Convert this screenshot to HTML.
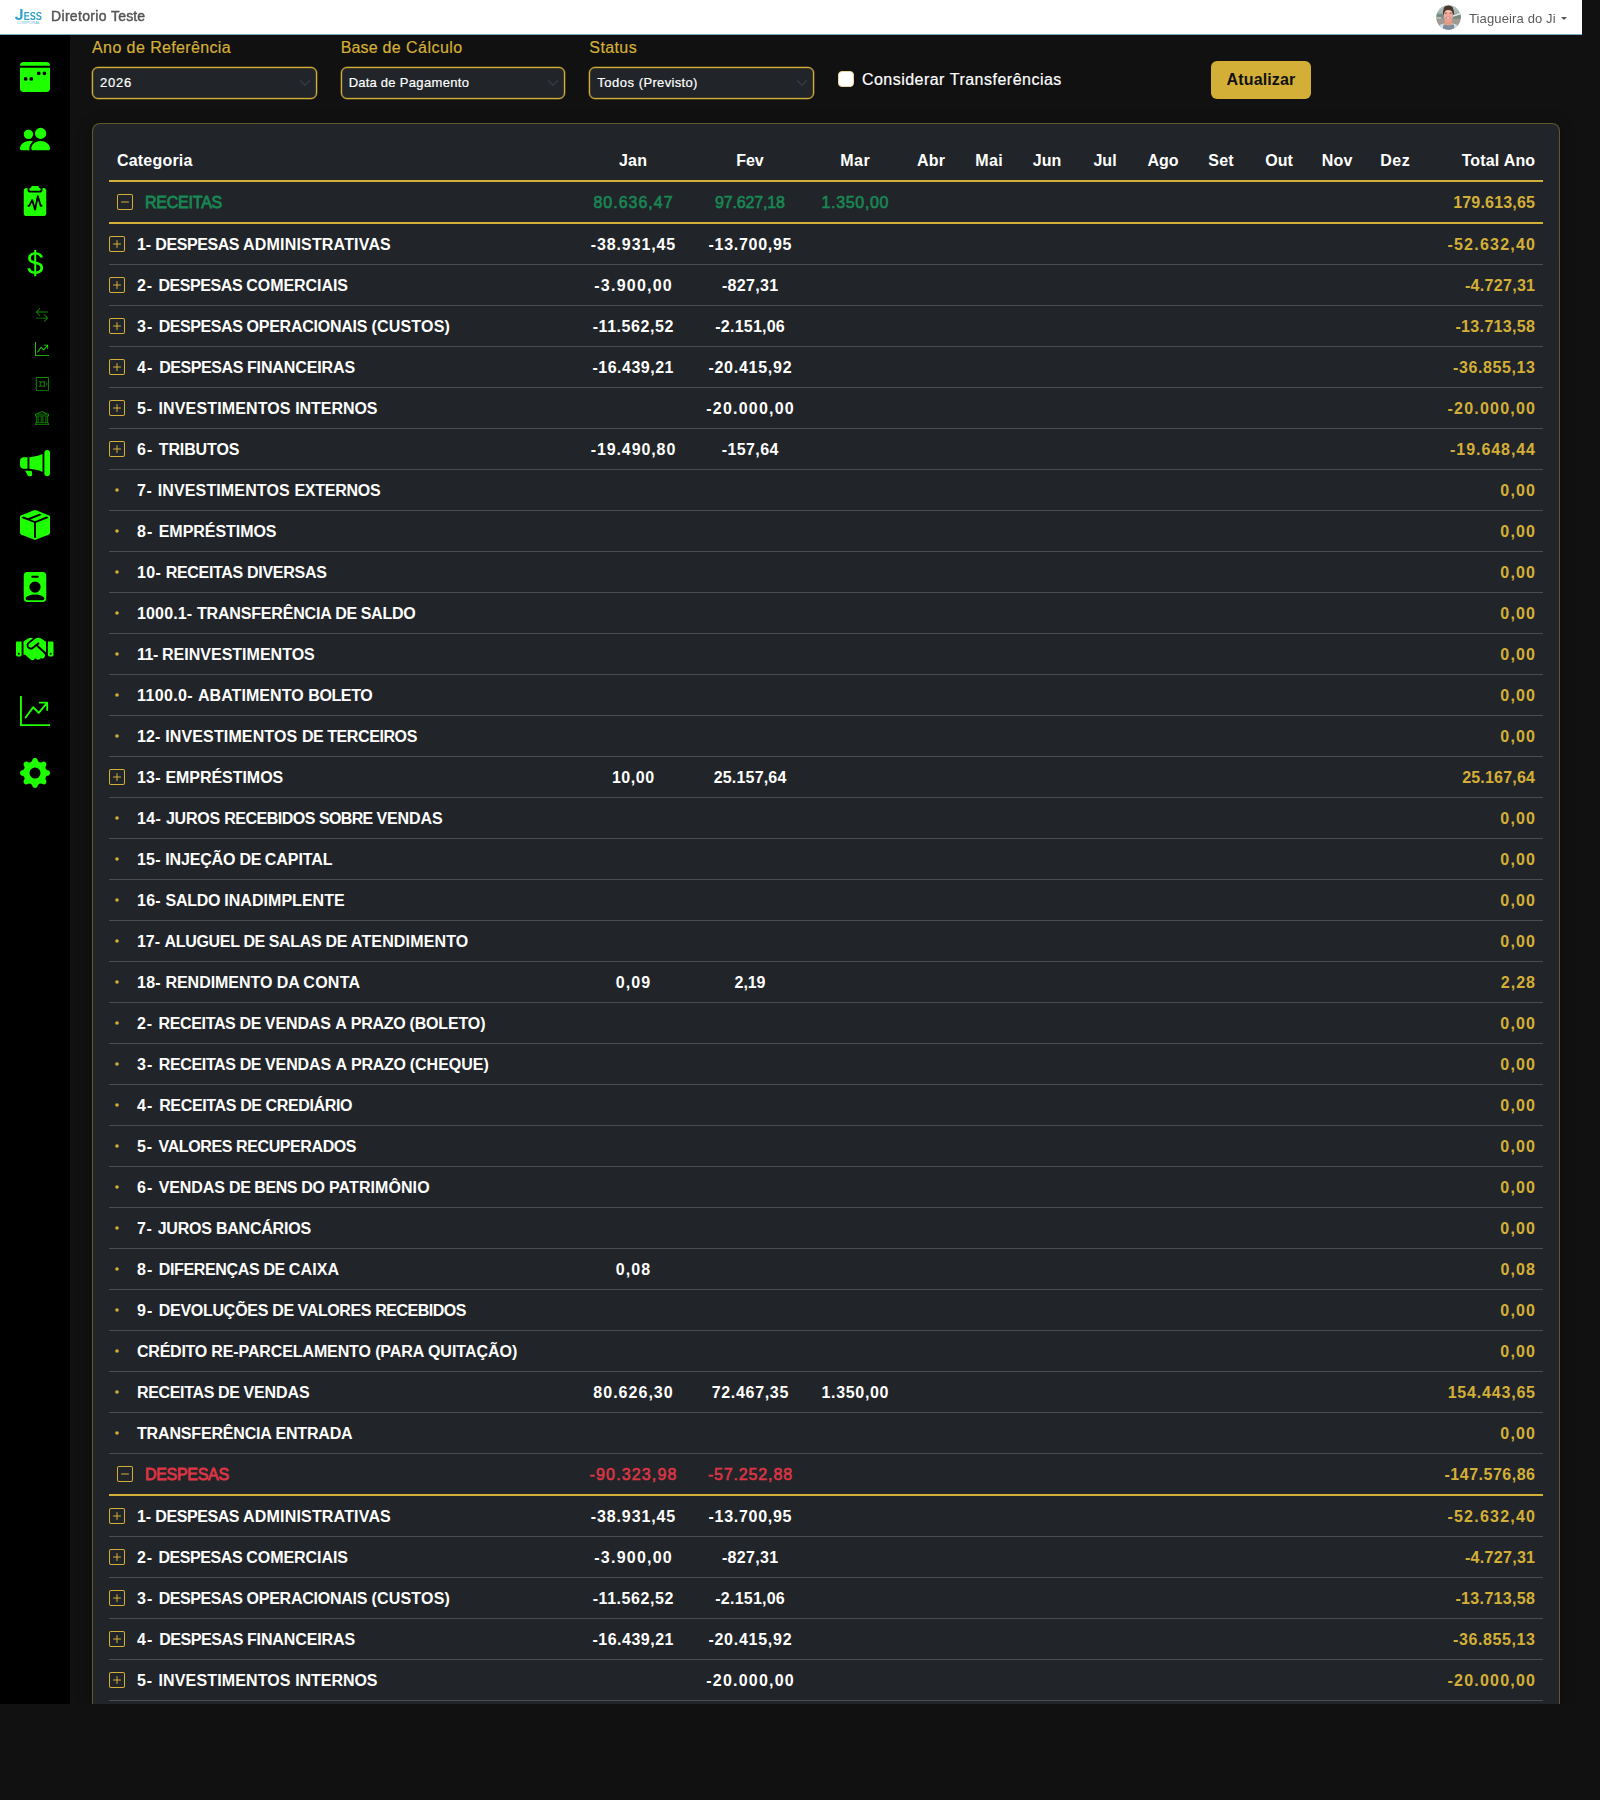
<!DOCTYPE html><html><head><meta charset="utf-8"><title>DRE</title><style>
html,body{margin:0;padding:0}
body{width:1600px;height:1800px;background:#111;overflow:hidden;position:relative;font-family:"Liberation Sans",sans-serif;color:#fff;font-size:16px;line-height:24px}
span,i{white-space:pre}
i{font-style:normal}
.hdr{position:absolute;left:0;top:0;width:1582px;height:34px;background:#fff;border-bottom:1px solid #78aac2}
.side{position:absolute;left:0;top:35px;width:70px;height:1669px;background:#000}
.ic{position:absolute;display:block}
.brand{position:absolute;left:51px;top:4px;font-size:14px;line-height:24px;color:#555;-webkit-text-stroke:.45px #555}
.user{position:absolute;left:1469px;top:7px;font-size:13px;line-height:24px;color:#5a5a5a}
.brand,.user{filter:grayscale(1)}
.caret{position:absolute;left:1561px;top:17px;width:0;height:0;border-left:3px solid transparent;border-right:3px solid transparent;border-top:3.5px solid #555}
.lbl{position:absolute;top:36px;color:#d4af37;font-size:16px;line-height:24px;-webkit-text-stroke:.2px #d4af37}
.sel{position:absolute;top:67px;width:222.67px;height:30px;border:1px solid #d4af37;box-shadow:0 0 0 .5px rgba(212,175,55,.55),inset 0 0 0 .5px rgba(212,175,55,.3);border-radius:6px;background:#212529;font-size:13px;line-height:30px}
.sel span{position:absolute;left:7px;top:0;-webkit-text-stroke:.2px #fff}
.sel svg{position:absolute;right:3px;top:8.5px}
.chk{position:absolute;left:838px;top:71px;width:14px;height:14px;border:1px solid #e9d9a0;border-radius:4px;background:#fff}
.chkl{position:absolute;left:862px;top:68px;-webkit-text-stroke:.2px #fff}
.btn{position:absolute;left:1211px;top:61px;width:100px;height:38px;border-radius:6px;background:#d4af37;color:#111;text-align:center;line-height:38px;font-weight:700}
.card{position:absolute;left:92px;top:123px;width:1466px;height:1581px;border:1px solid rgba(212,175,55,.36);border-bottom:none;border-radius:8px 8px 0 0;background:#212529;box-shadow:0 2px 16px rgba(0,0,0,.3)}
.r{position:absolute;left:16px;width:1434px;height:40px;border-bottom:1px solid #484d52}
.r.g,.r.h{border-bottom:2px solid #d4af37}
.r>div{position:absolute;top:9px;height:24px;white-space:nowrap}
.c{text-align:center}
.b{font-weight:700}
.ti{position:absolute;top:12px}
.tot{right:8px;text-align:right;color:#d4af37;font-weight:700}
.wh{color:#fff}
.gm{-webkit-text-stroke:.6px currentColor}
.gl{-webkit-text-stroke:.8px currentColor}
.cut{position:absolute;left:0;top:1704px;width:1600px;height:96px;background:#111}
</style></head><body>
<div class="hdr">
<svg class="ic" style="left:12px;top:4px" width="34" height="24" viewBox="12 4 34 24"><defs><linearGradient id="lg" gradientUnits="userSpaceOnUse" x1="15" x2="42" y1="0" y2="0"><stop offset="0" stop-color="#0c83af"/><stop offset="1" stop-color="#2fa0c7"/></linearGradient></defs><g fill="url(#lg)"><path transform="translate(14.740,19.850) scale(0.007764,-0.007764)" d="M524 -20Q305 -20 187.5 75Q70 170 31 382L324 425Q342 316 391 263.5Q440 211 526 211Q614 211 659.5 270Q705 329 705 439V1409H999V446Q999 226 874 103Q749 -20 524 -20Z"/><path transform="translate(23.700,20.000) scale(0.004441,-0.005678)" d="M137 0V1409H1245V1181H432V827H1184V599H432V228H1286V0Z"/><path transform="translate(29.767,20.000) scale(0.004441,-0.005678)" d="M1286 406Q1286 199 1132.5 89.5Q979 -20 682 -20Q411 -20 257 76Q103 172 59 367L344 414Q373 302 457 251.5Q541 201 690 201Q999 201 999 389Q999 449 963.5 488Q928 527 863.5 553Q799 579 616 616Q458 653 396 675.5Q334 698 284 728.5Q234 759 199 802Q164 845 144.5 903Q125 961 125 1036Q125 1227 268.5 1328.5Q412 1430 686 1430Q948 1430 1079.5 1348Q1211 1266 1249 1077L963 1038Q941 1129 873.5 1175Q806 1221 680 1221Q412 1221 412 1053Q412 998 440.5 963Q469 928 525 903.5Q581 879 752 842Q955 799 1042.5 762.5Q1130 726 1181 677.5Q1232 629 1259 561.5Q1286 494 1286 406Z"/><path transform="translate(35.833,20.000) scale(0.004441,-0.005678)" d="M1286 406Q1286 199 1132.5 89.5Q979 -20 682 -20Q411 -20 257 76Q103 172 59 367L344 414Q373 302 457 251.5Q541 201 690 201Q999 201 999 389Q999 449 963.5 488Q928 527 863.5 553Q799 579 616 616Q458 653 396 675.5Q334 698 284 728.5Q234 759 199 802Q164 845 144.5 903Q125 961 125 1036Q125 1227 268.5 1328.5Q412 1430 686 1430Q948 1430 1079.5 1348Q1211 1266 1249 1077L963 1038Q941 1129 873.5 1175Q806 1221 680 1221Q412 1221 412 1053Q412 998 440.5 963Q469 928 525 903.5Q581 879 752 842Q955 799 1042.5 762.5Q1130 726 1181 677.5Q1232 629 1259 561.5Q1286 494 1286 406Z"/></g><text x="17" y="24.1" font-family="Liberation Sans, sans-serif" font-size="3.9" letter-spacing="0.2" fill="#62b4d2">CORPORAL</text></svg>
<div class="brand"><span style="letter-spacing:0px;"><i style="letter-spacing:0.328px">Diretorio </i><i style="letter-spacing:0.131px">Teste</i></span></div>
<svg class="ic" style="left:1436px;top:4.7px" width="25" height="25" viewBox="0 0 25 25"><defs><clipPath id="av"><circle cx="12.5" cy="12.4" r="12.3"/></clipPath><filter id="bl" x="-20%" y="-20%" width="140%" height="140%"><feGaussianBlur stdDeviation="0.5"/></filter><linearGradient id="bg" x1="0" x2="0" y1="0" y2="1"><stop offset="0" stop-color="#b9c6c0"/><stop offset=".3" stop-color="#a3b4ad"/><stop offset=".42" stop-color="#6e8682"/><stop offset=".52" stop-color="#8d938c"/><stop offset=".6" stop-color="#a29a93"/><stop offset="1" stop-color="#9b948f"/></linearGradient></defs><g clip-path="url(#av)"><rect width="25" height="25" fill="url(#bg)"/><g filter="url(#bl)"><rect x="0" y="12.3" width="5.2" height="1.3" fill="#cfcfcc"/><path d="M17 10.3 L25 7.6 L25 9.4 L17 12z" fill="#e3e8e5"/><path d="M17 12 L25 9.4 L25 13.5 L17 13.5z" fill="#74877f"/><path d="M2 25 L4.5 19.6 Q8 18 12.5 18 Q17 18 20.5 19.6 L23 25z" fill="#d3dce0"/><path d="M6.8 25 L7.3 19.8 Q12.5 18.4 18 19.8 L18.5 25z" fill="#7d8da1"/><path d="M8.6 15 h7.6 v4.2 q-3.8 2.6 -7.6 0z" fill="#e29a80"/><path d="M7 9.6 Q6.6 .6 12.4 .5 Q18.2 .6 18 9.6 L16.6 9.6 Q16.8 5 12.4 5 Q8.2 5 8.4 9.6z" fill="#46362f"/><ellipse cx="12.4" cy="3.6" rx="4.6" ry="2.6" fill="#493830"/><ellipse cx="12.3" cy="10.8" rx="4.6" ry="5.9" fill="#efa999"/><ellipse cx="12.3" cy="6.6" rx="3.2" ry="1.3" fill="#fbbba6"/><ellipse cx="10" cy="8.1" rx="1.25" ry=".55" fill="#7c5d5c"/><ellipse cx="14.5" cy="8.1" rx="1.25" ry=".55" fill="#7c5d5c"/><ellipse cx="12.2" cy="12.9" rx="2.7" ry="1.5" fill="#c78482"/><ellipse cx="12.2" cy="12.9" rx="1.5" ry=".75" fill="#efe4e4"/><ellipse cx="12.3" cy="15.4" rx="2.6" ry="1" fill="#ee9f92"/></g></g></svg>
<div class="user"><span style="letter-spacing:0px;"><i style="letter-spacing:0.133px">Tiagueira </i><i style="letter-spacing:0.109px">do </i><i style="letter-spacing:0.258px">Ji</i></span></div><div class="caret"></div>
</div>
<div class="side"></div>
<svg class="ic" style="left:20px;top:62px" width="30" height="30" viewBox="0 0 16 16" fill="#1eff00"><path fill-rule="evenodd" d="M2 0a2 2 0 0 0-2 2h16a2 2 0 0 0-2-2zM0 14V3h16v11a2 2 0 0 1-2 2H2a2 2 0 0 1-2-2m12-8a1 1 0 1 0 2 0 1 1 0 0 0-2 0M5 9a1 1 0 1 0 2 0 1 1 0 0 0-2 0m5-2a1 1 0 1 1 0-2 1 1 0 0 1 0 2M2 9a1 1 0 1 0 2 0 1 1 0 0 0-2 0"/></svg>
<svg class="ic" style="left:20px;top:124px" width="30" height="30" viewBox="0 0 16 16" fill="#1eff00"><path d="M7 14s-1 0-1-1 1-4 5-4 5 3 5 4-1 1-1 1zm4-6a3 3 0 1 0 0-6 3 3 0 0 0 0 6m-5.784 6A2.24 2.24 0 0 1 5 13c0-1.355.68-2.75 1.936-3.72A6.3 6.3 0 0 0 5 9c-4 0-5 3-5 4s1 1 1 1zM4.5 8a2.5 2.5 0 1 0 0-5 2.5 2.5 0 0 0 0 5"/></svg>
<svg class="ic" style="left:20px;top:186px" width="30" height="30" viewBox="0 0 16 16" fill="#1eff00"><path d="M10 .5a.5.5 0 0 0-.5-.5h-3a.5.5 0 0 0-.5.5.5.5 0 0 1-.5.5.5.5 0 0 0-.5.5V2a.5.5 0 0 0 .5.5h5A.5.5 0 0 0 11 2v-.5a.5.5 0 0 0-.5-.5.5.5 0 0 1-.5-.5"/><path d="M4.085 1H3.5A1.5 1.5 0 0 0 2 2.5v12A1.5 1.5 0 0 0 3.5 16h9a1.5 1.5 0 0 0 1.5-1.5v-12A1.5 1.5 0 0 0 12.5 1h-.585q.084.236.085.5V2a1.5 1.5 0 0 1-1.5 1.5h-5A1.5 1.5 0 0 1 4 2v-.5q.001-.264.085-.5M9.98 5.356 11.372 10h.128a.5.5 0 0 1 0 1H11a.5.5 0 0 1-.479-.356l-.94-3.135-1.092 5.096a.5.5 0 0 1-.968.039L6.383 8.85l-.936 1.873A.5.5 0 0 1 5 11h-.5a.5.5 0 0 1 0-1h.191l1.362-2.724a.5.5 0 0 1 .926.08l.94 3.135 1.092-5.096a.5.5 0 0 1 .968-.039Z"/></svg>
<svg class="ic" style="left:20px;top:248px" width="30" height="30" viewBox="0 0 16 16" fill="#1eff00"><path d="M4 10.781c.148 1.667 1.513 2.85 3.591 3.003V15h1.043v-1.216c2.27-.179 3.678-1.438 3.678-3.3 0-1.59-.947-2.51-2.956-3.028l-.722-.187V3.467c1.122.11 1.879.714 2.07 1.616h1.47c-.166-1.6-1.54-2.748-3.54-2.875V1H7.591v1.233c-1.939.23-3.27 1.472-3.27 3.156 0 1.454.966 2.483 2.661 2.917l.61.162v4.031c-1.149-.17-1.94-.8-2.131-1.718zm3.391-3.836c-1.043-.263-1.6-.825-1.6-1.616 0-.944.704-1.641 1.8-1.828v3.495l-.2-.05zm1.591 1.872c1.287.323 1.852.859 1.852 1.769 0 1.097-.826 1.828-2.2 1.939V8.73z"/></svg>
<svg class="ic" style="left:20px;top:448px" width="30" height="30" viewBox="0 0 16 16" fill="#1eff00"><path d="M13 2.5a1.5 1.5 0 0 1 3 0v11a1.5 1.5 0 0 1-3 0zm-1 .724c-2.067.95-4.539 1.481-7 1.656v6.237a25 25 0 0 1 1.088.085c2.053.204 4.038.668 5.912 1.56zm-8 7.841V4.934c-.68.027-1.399.043-2.008.053A2.02 2.02 0 0 0 0 7v2c0 1.106.896 1.996 1.994 2.009l.496.008a64 64 0 0 1 1.51.048m1.39 1.081q.428.032.85.078l.253 1.69a1 1 0 0 1-.983 1.187h-.548a1 1 0 0 1-.916-.599l-1.314-2.48a66 66 0 0 1 1.692.064q.491.026.966.06"/></svg>
<svg class="ic" style="left:20px;top:510px" width="30" height="30" viewBox="0 0 16 16" fill="#1eff00"><path fill-rule="evenodd" d="M15.528 2.973a.75.75 0 0 1 .472.696v8.662a.75.75 0 0 1-.472.696l-7.25 2.9a.75.75 0 0 1-.557 0l-7.25-2.9A.75.75 0 0 1 0 12.331V3.669a.75.75 0 0 1 .471-.696L7.443.184l.01-.003.268-.108a.75.75 0 0 1 .558 0l.269.108.01.003zM10.404 2 4.25 4.461 1.846 3.5 1 3.839v.4l6.5 2.6v7.922l.5.2.5-.2V6.84l6.5-2.6v-.4l-.846-.339L8 5.961 5.596 5l6.154-2.461z"/></svg>
<svg class="ic" style="left:20px;top:572px" width="30" height="30" viewBox="0 0 16 16" fill="#1eff00"><path d="M2 2a2 2 0 0 1 2-2h8a2 2 0 0 1 2 2v12a2 2 0 0 1-2 2H4a2 2 0 0 1-2-2zm4.5 0a.5.5 0 0 0 0 1h3a.5.5 0 0 0 0-1zM8 11a3 3 0 1 0 0-6 3 3 0 0 0 0 6m5 2.755C12.146 12.825 10.623 12 8 12s-4.146.826-5 1.755V14a1 1 0 0 0 1 1h8a1 1 0 0 0 1-1z"/></svg>
<svg class="ic" style="left:20px;top:696px" width="30" height="30" viewBox="0 0 16 16" fill="#1eff00"><path fill-rule="evenodd" d="M0 0h1v15h15v1H0zm10 3.5a.5.5 0 0 1 .5-.5h4a.5.5 0 0 1 .5.5v4a.5.5 0 0 1-1 0V4.9l-3.613 4.417a.5.5 0 0 1-.74.037L7.06 6.767l-3.656 5.027a.5.5 0 0 1-.808-.588l4-5.5a.5.5 0 0 1 .758-.06l2.609 2.61L13.445 4H10.5a.5.5 0 0 1-.5-.5"/></svg>
<svg class="ic" style="left:20px;top:758px" width="30" height="30" viewBox="0 0 16 16" fill="#1eff00"><path d="M9.405 1.05c-.413-1.4-2.397-1.4-2.81 0l-.1.34a1.464 1.464 0 0 1-2.105.872l-.31-.17c-1.283-.698-2.686.705-1.987 1.987l.169.311c.446.82.023 1.841-.872 2.105l-.34.1c-1.4.413-1.4 2.397 0 2.81l.34.1a1.464 1.464 0 0 1 .872 2.105l-.17.31c-.698 1.283.705 2.686 1.987 1.987l.311-.169a1.464 1.464 0 0 1 2.105.872l.1.34c.413 1.4 2.397 1.4 2.81 0l.1-.34a1.464 1.464 0 0 1 2.105-.872l.31.17c1.283.698 2.686-.705 1.987-1.987l-.169-.311a1.464 1.464 0 0 1 .872-2.105l.34-.1c1.4-.413 1.4-2.397 0-2.81l-.34-.1a1.464 1.464 0 0 1-.872-2.105l.17-.31c.698-1.283-.705-2.686-1.987-1.987l-.311.169a1.464 1.464 0 0 1-2.105-.872zM8 10.93a2.929 2.929 0 1 1 0-5.86 2.929 2.929 0 0 1 0 5.858z"/></svg>
<svg class="ic" style="left:16.25px;top:634px" width="37.5" height="30" viewBox="0 0 640 512" fill="#1eff00"><path transform="translate(0,448) scale(1,-1)" d="M323 363 227 284Q214 274 212 259Q211 244 220 231Q230 218 246 216Q261 213 275 223L374 301Q387 309 397 298Q405 286 394 275L373 259L512 131V320H511L507 322L435 369Q411 384 383 384Q350 384 323 363ZM346 238 294 198Q270 180 241 184Q213 188 194 212Q177 236 181 263Q184 290 206 309L290 376Q272 384 253 384Q224 384 200 368L128 320V96H156L248 13Q263 -1 282 0Q301 1 315 16Q324 25 327 36L344 21Q359 7 378 8Q397 9 411 24Q418 31 421 40Q436 30 453 32Q471 34 483 48Q497 63 496 82Q495 101 480 115L346 238ZM16 320Q1 319 0 304V96Q0 82 9 73Q18 64 32 64H64Q78 64 87 73Q96 82 96 96V320H16ZM48 128Q63 127 64 112Q63 97 48 96Q33 97 32 112Q33 127 48 128ZM544 320V96Q544 82 553 73Q562 64 576 64H608Q622 64 631 73Q640 82 640 96V304Q639 319 624 320H544ZM576 112Q577 127 592 128Q607 127 608 112Q607 97 592 96Q577 97 576 112Z"/></svg>
<svg class="ic" style="left:35px;top:308px" width="14" height="14" viewBox="0 0 16 16" fill="#128c00"><path fill-rule="evenodd" d="M1 11.5a.5.5 0 0 0 .5.5h11.793l-3.147 3.146a.5.5 0 0 0 .708.708l4-4a.5.5 0 0 0 0-.708l-4-4a.5.5 0 0 0-.708.708L13.293 11H1.5a.5.5 0 0 0-.5.5m14-7a.5.5 0 0 1-.5.5H2.707l3.147 3.146a.5.5 0 1 1-.708.708l-4-4a.5.5 0 0 1 0-.708l4-4a.5.5 0 1 1 .708.708L2.707 4H14.5a.5.5 0 0 1 .5.5"/></svg>
<svg class="ic" style="left:35px;top:342px" width="14" height="14" viewBox="0 0 16 16" fill="#1fe000"><path fill-rule="evenodd" d="M0 0h1v15h15v1H0zm10 3.5a.5.5 0 0 1 .5-.5h4a.5.5 0 0 1 .5.5v4a.5.5 0 0 1-1 0V4.9l-3.613 4.417a.5.5 0 0 1-.74.037L7.06 6.767l-3.656 5.027a.5.5 0 0 1-.808-.588l4-5.5a.5.5 0 0 1 .758-.06l2.609 2.61L13.445 4H10.5a.5.5 0 0 1-.5-.5"/></svg>
<svg class="ic" style="left:35px;top:377px" width="14" height="14" viewBox="0 0 16 16" fill="#128c00"><path d="M1 1.5A1.5 1.5 0 0 1 2.5 0h12A1.5 1.5 0 0 1 16 1.5v13a1.5 1.5 0 0 1-1.5 1.5h-12A1.5 1.5 0 0 1 1 14.5V13H.5a.5.5 0 0 1 0-1H1V8.5H.5a.5.5 0 0 1 0-1H1V4H.5a.5.5 0 0 1 0-1H1zM2.5 1a.5.5 0 0 0-.5.5v13a.5.5 0 0 0 .5.5h12a.5.5 0 0 0 .5-.5v-13a.5.5 0 0 0-.5-.5z"/><path d="M13.5 6a.5.5 0 0 1 .5.5v3a.5.5 0 0 1-1 0v-3a.5.5 0 0 1 .5-.5M4.828 4.464a.5.5 0 0 1 .708 0l1.09 1.09a3 3 0 0 1 3.476 0l1.09-1.09a.5.5 0 1 1 .707.708l-1.09 1.09c.74 1.037.74 2.44 0 3.476l1.09 1.09a.5.5 0 1 1-.707.708l-1.09-1.09a3 3 0 0 1-3.476 0l-1.09 1.09a.5.5 0 1 1-.708-.708l1.09-1.09a3 3 0 0 1 0-3.476l-1.09-1.09a.5.5 0 0 1 0-.708M6.95 6.586a2 2 0 1 0 2.828 2.828A2 2 0 0 0 6.95 6.586"/></svg>
<svg class="ic" style="left:35px;top:411px" width="14" height="14" viewBox="0 0 16 16" fill="#128c00"><path d="m8 0 6.61 3h.89a.5.5 0 0 1 .5.5v2a.5.5 0 0 1-.5.5H15v7a.5.5 0 0 1 .485.38l.5 2a.498.498 0 0 1-.485.62H.5a.498.498 0 0 1-.485-.62l.5-2A.5.5 0 0 1 1 13V6H.5a.5.5 0 0 1-.5-.5v-2A.5.5 0 0 1 .5 3h.89zM3.777 3h8.447L8 1zM2 6v7h1V6zm2 0v7h2.5V6zm3.5 0v7h1V6zm2 0v7H12V6zM13 6v7h1V6zm2-1V4H1v1zm-.39 9H1.39l-.25 1h13.72z"/></svg>
<div class="lbl" style="left:92px"><span style="letter-spacing:0px;"><i style="letter-spacing:0.418px">Ano </i><i style="letter-spacing:0.458px">de </i><i style="letter-spacing:0.333px">Referência</i></span></div>
<div class="sel" style="left:92px"><span style="letter-spacing:0.801px;">2026</span><svg width="16" height="12" viewBox="0 0 16 16"><path fill="none" stroke="#343a40" stroke-linecap="round" stroke-linejoin="round" stroke-width="2" d="m2 5 6 6 6-6"/></svg></div>
<div class="lbl" style="left:340.67px"><span style="letter-spacing:0px;"><i style="letter-spacing:0.163px">Base </i><i style="letter-spacing:0.458px">de </i><i style="letter-spacing:0.464px">Cálculo</i></span></div>
<div class="sel" style="left:340.67px"><span style="letter-spacing:0px;"><i style="letter-spacing:0.178px">Data </i><i style="letter-spacing:0.37px">de </i><i style="letter-spacing:0.326px">Pagamento</i></span><svg width="16" height="12" viewBox="0 0 16 16"><path fill="none" stroke="#343a40" stroke-linecap="round" stroke-linejoin="round" stroke-width="2" d="m2 5 6 6 6-6"/></svg></div>
<div class="lbl" style="left:589.33px"><span style="letter-spacing:0.391px;">Status</span></div>
<div class="sel" style="left:589.33px"><span style="letter-spacing:0px;"><i style="letter-spacing:0.523px">Todos </i><i style="letter-spacing:0.325px">(Previsto)</i></span><svg width="16" height="12" viewBox="0 0 16 16"><path fill="none" stroke="#343a40" stroke-linecap="round" stroke-linejoin="round" stroke-width="2" d="m2 5 6 6 6-6"/></svg></div>
<div class="chk"></div><div class="chkl"><span style="letter-spacing:0px;"><i style="letter-spacing:0.456px">Considerar </i><i style="letter-spacing:0.49px">Transferências</i></span></div>
<div class="btn"><span style="letter-spacing:0.142px;">Atualizar</span></div>
<div class="card">
<div class="r h" style="top:16px"><div class="b" style="left:8px"><span style="letter-spacing:0.196px;">Categoria</span></div>
<div class="b" style="left:509.99px;letter-spacing:0.224px;">Jan</div>
<div class="b" style="left:627.25px;letter-spacing:-0.042px;">Fev</div>
<div class="b" style="left:731.16px;letter-spacing:0.615px;">Mar</div>
<div class="b" style="left:808.08px;letter-spacing:0.141px;">Abr</div>
<div class="b" style="left:866.17px;letter-spacing:0.49px;">Mai</div>
<div class="b" style="left:923.64px;letter-spacing:0.135px;">Jun</div>
<div class="b" style="left:984.39px;letter-spacing:0.047px;">Jul</div>
<div class="b" style="left:1038.43px;letter-spacing:0.016px;">Ago</div>
<div class="b" style="left:1099.34px;letter-spacing:0.203px;">Set</div>
<div class="b" style="left:1156.16px;letter-spacing:0.068px;">Out</div>
<div class="b" style="left:1212.63px;letter-spacing:0.25px;">Nov</div>
<div class="b" style="left:1271.33px;letter-spacing:0.443px;">Dez</div>
<div class="tot b wh" style="letter-spacing:0px;right:7.98px"><i style="letter-spacing:0.117px">Total </i><i style="letter-spacing:0.021px">Ano</i></div></div>
<div class="r g" style="top:58px"><svg class="ti" style="left:8px" width="16" height="16" viewBox="0 0 16 16" fill="#d4af37"><path d="M14 1a1 1 0 0 1 1 1v12a1 1 0 0 1-1 1H2a1 1 0 0 1-1-1V2a1 1 0 0 1 1-1zM2 0a2 2 0 0 0-2 2v12a2 2 0 0 0 2 2h12a2 2 0 0 0 2-2V2a2 2 0 0 0-2-2z"/><path d="M4 8a.5.5 0 0 1 .5-.5h7a.5.5 0 0 1 0 1h-7A.5.5 0 0 1 4 8"/></svg>
<div class="gl" style="left:36px;color:#198754"><span style="letter-spacing:-0.219px;">RECEITAS</span></div>
<div class="gm" style="left:484.43px;letter-spacing:0.995px;color:#198754;">80.636,47</div>
<div class="gm" style="left:605.98px;letter-spacing:-0.142px;color:#198754;">97.627,18</div>
<div class="gm" style="left:712.54px;letter-spacing:0.664px;color:#198754;">1.350,00</div>
<div class="tot" style="letter-spacing:0.198px;right:7.80px">179.613,65</div></div>
<div class="r" style="top:100px"><svg class="ti" style="left:0" width="16" height="16" viewBox="0 0 16 16" fill="#d4af37"><path d="M14 1a1 1 0 0 1 1 1v12a1 1 0 0 1-1 1H2a1 1 0 0 1-1-1V2a1 1 0 0 1 1-1zM2 0a2 2 0 0 0-2 2v12a2 2 0 0 0 2 2h12a2 2 0 0 0 2-2V2a2 2 0 0 0-2-2z"/><path d="M8 4a.5.5 0 0 1 .5.5v3h3a.5.5 0 0 1 0 1h-3v3a.5.5 0 0 1-1 0v-3h-3a.5.5 0 0 1 0-1h3v-3A.5.5 0 0 1 8 4"/></svg>
<div class="b" style="left:28px"><span style="letter-spacing:0px;"><i style="letter-spacing:-0.141px">1- </i><i style="letter-spacing:-0.42px">DESPESAS </i><i style="letter-spacing:0.182px">ADMINISTRATIVAS</i></span></div>
<div class="b" style="left:481.77px;letter-spacing:0.883px;">-38.931,45</div>
<div class="b" style="left:599.52px;letter-spacing:0.716px;">-13.700,95</div>
<div class="tot" style="letter-spacing:1.231px;right:6.77px">-52.632,40</div></div>
<div class="r" style="top:141px"><svg class="ti" style="left:0" width="16" height="16" viewBox="0 0 16 16" fill="#d4af37"><path d="M14 1a1 1 0 0 1 1 1v12a1 1 0 0 1-1 1H2a1 1 0 0 1-1-1V2a1 1 0 0 1 1-1zM2 0a2 2 0 0 0-2 2v12a2 2 0 0 0 2 2h12a2 2 0 0 0 2-2V2a2 2 0 0 0-2-2z"/><path d="M8 4a.5.5 0 0 1 .5.5v3h3a.5.5 0 0 1 0 1h-3v3a.5.5 0 0 1-1 0v-3h-3a.5.5 0 0 1 0-1h3v-3A.5.5 0 0 1 8 4"/></svg>
<div class="b" style="left:28px"><span style="letter-spacing:0px;"><i style="letter-spacing:0.927px">2- </i><i style="letter-spacing:-0.42px">DESPESAS </i><i style="letter-spacing:-0.058px">COMERCIAIS</i></span></div>
<div class="b" style="left:485.24px;letter-spacing:1.24px;">-3.900,00</div>
<div class="b" style="left:612.90px;letter-spacing:0.324px;">-827,31</div>
<div class="tot" style="letter-spacing:0.309px;right:7.69px">-4.727,31</div></div>
<div class="r" style="top:182px"><svg class="ti" style="left:0" width="16" height="16" viewBox="0 0 16 16" fill="#d4af37"><path d="M14 1a1 1 0 0 1 1 1v12a1 1 0 0 1-1 1H2a1 1 0 0 1-1-1V2a1 1 0 0 1 1-1zM2 0a2 2 0 0 0-2 2v12a2 2 0 0 0 2 2h12a2 2 0 0 0 2-2V2a2 2 0 0 0-2-2z"/><path d="M8 4a.5.5 0 0 1 .5.5v3h3a.5.5 0 0 1 0 1h-3v3a.5.5 0 0 1-1 0v-3h-3a.5.5 0 0 1 0-1h3v-3A.5.5 0 0 1 8 4"/></svg>
<div class="b" style="left:28px"><span style="letter-spacing:0px;"><i style="letter-spacing:0.995px">3- </i><i style="letter-spacing:-0.42px">DESPESAS </i><i style="letter-spacing:-0.238px">OPERACIONAIS </i><i style="letter-spacing:0.203px">(CUSTOS)</i></span></div>
<div class="b" style="left:483.68px;letter-spacing:0.556px;">-11.562,52</div>
<div class="b" style="left:606.25px;letter-spacing:0.236px;">-2.151,06</div>
<div class="tot" style="letter-spacing:0.338px;right:7.66px">-13.713,58</div></div>
<div class="r" style="top:223px"><svg class="ti" style="left:0" width="16" height="16" viewBox="0 0 16 16" fill="#d4af37"><path d="M14 1a1 1 0 0 1 1 1v12a1 1 0 0 1-1 1H2a1 1 0 0 1-1-1V2a1 1 0 0 1 1-1zM2 0a2 2 0 0 0-2 2v12a2 2 0 0 0 2 2h12a2 2 0 0 0 2-2V2a2 2 0 0 0-2-2z"/><path d="M8 4a.5.5 0 0 1 .5.5v3h3a.5.5 0 0 1 0 1h-3v3a.5.5 0 0 1-1 0v-3h-3a.5.5 0 0 1 0-1h3v-3A.5.5 0 0 1 8 4"/></svg>
<div class="b" style="left:28px"><span style="letter-spacing:0px;"><i style="letter-spacing:1.156px">4- </i><i style="letter-spacing:-0.42px">DESPESAS </i><i style="letter-spacing:-0.122px">FINANCEIRAS</i></span></div>
<div class="b" style="left:483.49px;letter-spacing:0.5px;">-16.439,21</div>
<div class="b" style="left:599.40px;letter-spacing:0.742px;">-20.415,92</div>
<div class="tot" style="letter-spacing:0.602px;right:7.40px">-36.855,13</div></div>
<div class="r" style="top:264px"><svg class="ti" style="left:0" width="16" height="16" viewBox="0 0 16 16" fill="#d4af37"><path d="M14 1a1 1 0 0 1 1 1v12a1 1 0 0 1-1 1H2a1 1 0 0 1-1-1V2a1 1 0 0 1 1-1zM2 0a2 2 0 0 0-2 2v12a2 2 0 0 0 2 2h12a2 2 0 0 0 2-2V2a2 2 0 0 0-2-2z"/><path d="M8 4a.5.5 0 0 1 .5.5v3h3a.5.5 0 0 1 0 1h-3v3a.5.5 0 0 1-1 0v-3h-3a.5.5 0 0 1 0-1h3v-3A.5.5 0 0 1 8 4"/></svg>
<div class="b" style="left:28px"><span style="letter-spacing:0px;"><i style="letter-spacing:0.958px">5- </i><i style="letter-spacing:0.132px">INVESTIMENTOS </i><i style="letter-spacing:-0.068px">INTERNOS</i></span></div>
<div class="b" style="left:597.23px;letter-spacing:1.225px;">-20.000,00</div>
<div class="tot" style="letter-spacing:1.225px;right:6.78px">-20.000,00</div></div>
<div class="r" style="top:305px"><svg class="ti" style="left:0" width="16" height="16" viewBox="0 0 16 16" fill="#d4af37"><path d="M14 1a1 1 0 0 1 1 1v12a1 1 0 0 1-1 1H2a1 1 0 0 1-1-1V2a1 1 0 0 1 1-1zM2 0a2 2 0 0 0-2 2v12a2 2 0 0 0 2 2h12a2 2 0 0 0 2-2V2a2 2 0 0 0-2-2z"/><path d="M8 4a.5.5 0 0 1 .5.5v3h3a.5.5 0 0 1 0 1h-3v3a.5.5 0 0 1-1 0v-3h-3a.5.5 0 0 1 0-1h3v-3A.5.5 0 0 1 8 4"/></svg>
<div class="b" style="left:28px"><span style="letter-spacing:0px;"><i style="letter-spacing:1.016px">6- </i><i style="letter-spacing:-0.121px">TRIBUTOS</i></span></div>
<div class="b" style="left:481.66px;letter-spacing:0.906px;">-19.490,80</div>
<div class="b" style="left:612.68px;letter-spacing:0.397px;">-157,64</div>
<div class="tot" style="letter-spacing:0.934px;right:7.07px">-19.648,44</div></div>
<div class="r" style="top:346px"><svg class="ti" style="left:0" width="16" height="16" viewBox="0 0 16 16" fill="#d4af37"><circle cx="8" cy="8" r="1.8"/></svg>
<div class="b" style="left:28px"><span style="letter-spacing:0px;"><i style="letter-spacing:0.677px">7- </i><i style="letter-spacing:0.132px">INVESTIMENTOS </i><i style="letter-spacing:-0.238px">EXTERNOS</i></span></div>
<div class="tot" style="letter-spacing:1.184px;right:6.82px">0,00</div></div>
<div class="r" style="top:387px"><svg class="ti" style="left:0" width="16" height="16" viewBox="0 0 16 16" fill="#d4af37"><circle cx="8" cy="8" r="1.8"/></svg>
<div class="b" style="left:28px"><span style="letter-spacing:0px;"><i style="letter-spacing:1.016px">8- </i><i style="letter-spacing:-0.044px">EMPRÉSTIMOS</i></span></div>
<div class="tot" style="letter-spacing:1.184px;right:6.82px">0,00</div></div>
<div class="r" style="top:428px"><svg class="ti" style="left:0" width="16" height="16" viewBox="0 0 16 16" fill="#d4af37"><circle cx="8" cy="8" r="1.8"/></svg>
<div class="b" style="left:28px"><span style="letter-spacing:0px;"><i style="letter-spacing:0.305px">10- </i><i style="letter-spacing:-0.339px">RECEITAS </i><i style="letter-spacing:-0.24px">DIVERSAS</i></span></div>
<div class="tot" style="letter-spacing:1.184px;right:6.82px">0,00</div></div>
<div class="r" style="top:469px"><svg class="ti" style="left:0" width="16" height="16" viewBox="0 0 16 16" fill="#d4af37"><circle cx="8" cy="8" r="1.8"/></svg>
<div class="b" style="left:28px"><span style="letter-spacing:0px;"><i style="letter-spacing:0.148px">1000.1- </i><i style="letter-spacing:-0.164px">TRANSFERÊNCIA </i><i style="letter-spacing:-0.464px">DE </i><i style="letter-spacing:-0.244px">SALDO</i></span></div>
<div class="tot" style="letter-spacing:1.184px;right:6.82px">0,00</div></div>
<div class="r" style="top:510px"><svg class="ti" style="left:0" width="16" height="16" viewBox="0 0 16 16" fill="#d4af37"><circle cx="8" cy="8" r="1.8"/></svg>
<div class="b" style="left:28px"><span style="letter-spacing:0px;"><i style="letter-spacing:-0.418px">11- </i><i style="letter-spacing:0.01px">REINVESTIMENTOS</i></span></div>
<div class="tot" style="letter-spacing:1.184px;right:6.82px">0,00</div></div>
<div class="r" style="top:551px"><svg class="ti" style="left:0" width="16" height="16" viewBox="0 0 16 16" fill="#d4af37"><circle cx="8" cy="8" r="1.8"/></svg>
<div class="b" style="left:28px"><span style="letter-spacing:0px;"><i style="letter-spacing:0.383px">1100.0- </i><i style="letter-spacing:0.071px">ABATIMENTO </i><i style="letter-spacing:-0.406px">BOLETO</i></span></div>
<div class="tot" style="letter-spacing:1.184px;right:6.82px">0,00</div></div>
<div class="r" style="top:592px"><svg class="ti" style="left:0" width="16" height="16" viewBox="0 0 16 16" fill="#d4af37"><circle cx="8" cy="8" r="1.8"/></svg>
<div class="b" style="left:28px"><span style="letter-spacing:0px;"><i style="letter-spacing:0.16px">12- </i><i style="letter-spacing:0.132px">INVESTIMENTOS </i><i style="letter-spacing:-0.464px">DE </i><i style="letter-spacing:-0.401px">TERCEIROS</i></span></div>
<div class="tot" style="letter-spacing:1.184px;right:6.82px">0,00</div></div>
<div class="r" style="top:633px"><svg class="ti" style="left:0" width="16" height="16" viewBox="0 0 16 16" fill="#d4af37"><path d="M14 1a1 1 0 0 1 1 1v12a1 1 0 0 1-1 1H2a1 1 0 0 1-1-1V2a1 1 0 0 1 1-1zM2 0a2 2 0 0 0-2 2v12a2 2 0 0 0 2 2h12a2 2 0 0 0 2-2V2a2 2 0 0 0-2-2z"/><path d="M8 4a.5.5 0 0 1 .5.5v3h3a.5.5 0 0 1 0 1h-3v3a.5.5 0 0 1-1 0v-3h-3a.5.5 0 0 1 0-1h3v-3A.5.5 0 0 1 8 4"/></svg>
<div class="b" style="left:28px"><span style="letter-spacing:0px;"><i style="letter-spacing:0.211px">13- </i><i style="letter-spacing:-0.044px">EMPRÉSTIMOS</i></span></div>
<div class="b" style="left:502.94px;letter-spacing:0.519px;">10,00</div>
<div class="b" style="left:604.64px;letter-spacing:0.193px;">25.157,64</div>
<div class="tot" style="letter-spacing:0.212px;right:7.79px">25.167,64</div></div>
<div class="r" style="top:674px"><svg class="ti" style="left:0" width="16" height="16" viewBox="0 0 16 16" fill="#d4af37"><circle cx="8" cy="8" r="1.8"/></svg>
<div class="b" style="left:28px"><span style="letter-spacing:0px;"><i style="letter-spacing:0.332px">14- </i><i style="letter-spacing:-0.227px">JUROS </i><i style="letter-spacing:-0.472px">RECEBIDOS </i><i style="letter-spacing:-0.656px">SOBRE </i><i style="letter-spacing:-0.068px">VENDAS</i></span></div>
<div class="tot" style="letter-spacing:1.184px;right:6.82px">0,00</div></div>
<div class="r" style="top:715px"><svg class="ti" style="left:0" width="16" height="16" viewBox="0 0 16 16" fill="#d4af37"><circle cx="8" cy="8" r="1.8"/></svg>
<div class="b" style="left:28px"><span style="letter-spacing:0px;"><i style="letter-spacing:0.184px">15- </i><i style="letter-spacing:-0.164px">INJEÇÃO </i><i style="letter-spacing:-0.469px">DE </i><i style="letter-spacing:-0.071px">CAPITAL</i></span></div>
<div class="tot" style="letter-spacing:1.184px;right:6.82px">0,00</div></div>
<div class="r" style="top:756px"><svg class="ti" style="left:0" width="16" height="16" viewBox="0 0 16 16" fill="#d4af37"><circle cx="8" cy="8" r="1.8"/></svg>
<div class="b" style="left:28px"><span style="letter-spacing:0px;"><i style="letter-spacing:0.227px">16- </i><i style="letter-spacing:-0.273px">SALDO </i><i style="letter-spacing:0.034px">INADIMPLENTE</i></span></div>
<div class="tot" style="letter-spacing:1.184px;right:6.82px">0,00</div></div>
<div class="r" style="top:797px"><svg class="ti" style="left:0" width="16" height="16" viewBox="0 0 16 16" fill="#d4af37"><circle cx="8" cy="8" r="1.8"/></svg>
<div class="b" style="left:28px"><span style="letter-spacing:0px;"><i style="letter-spacing:-0.027px">17- </i><i style="letter-spacing:-0.312px">ALUGUEL </i><i style="letter-spacing:-0.469px">DE </i><i style="letter-spacing:-0.305px">SALAS </i><i style="letter-spacing:-0.464px">DE </i><i style="letter-spacing:0.156px">ATENDIMENTO</i></span></div>
<div class="tot" style="letter-spacing:1.184px;right:6.82px">0,00</div></div>
<div class="r" style="top:838px"><svg class="ti" style="left:0" width="16" height="16" viewBox="0 0 16 16" fill="#d4af37"><circle cx="8" cy="8" r="1.8"/></svg>
<div class="b" style="left:28px"><span style="letter-spacing:0px;"><i style="letter-spacing:0.227px">18- </i><i style="letter-spacing:-0.043px">RENDIMENTO </i><i style="letter-spacing:-0.125px">DA </i><i style="letter-spacing:0.266px">CONTA</i></span></div>
<div class="b" style="left:506.77px;letter-spacing:1.105px;">0,09</div>
<div class="b" style="left:625.61px;letter-spacing:-0.121px;">2,19</div>
<div class="tot" style="letter-spacing:1.035px;right:6.96px">2,28</div></div>
<div class="r" style="top:879px"><svg class="ti" style="left:0" width="16" height="16" viewBox="0 0 16 16" fill="#d4af37"><circle cx="8" cy="8" r="1.8"/></svg>
<div class="b" style="left:28px"><span style="letter-spacing:0px;"><i style="letter-spacing:0.927px">2- </i><i style="letter-spacing:-0.339px">RECEITAS </i><i style="letter-spacing:-0.469px">DE </i><i style="letter-spacing:-0.116px">VENDAS </i><i style="letter-spacing:0.133px">A </i><i style="letter-spacing:-0.305px">PRAZO </i><i style="letter-spacing:-0.145px">(BOLETO)</i></span></div>
<div class="tot" style="letter-spacing:1.184px;right:6.82px">0,00</div></div>
<div class="r" style="top:920px"><svg class="ti" style="left:0" width="16" height="16" viewBox="0 0 16 16" fill="#d4af37"><circle cx="8" cy="8" r="1.8"/></svg>
<div class="b" style="left:28px"><span style="letter-spacing:0px;"><i style="letter-spacing:0.995px">3- </i><i style="letter-spacing:-0.339px">RECEITAS </i><i style="letter-spacing:-0.464px">DE </i><i style="letter-spacing:-0.116px">VENDAS </i><i style="letter-spacing:0.133px">A </i><i style="letter-spacing:-0.305px">PRAZO </i><i style="letter-spacing:0.008px">(CHEQUE)</i></span></div>
<div class="tot" style="letter-spacing:1.184px;right:6.82px">0,00</div></div>
<div class="r" style="top:961px"><svg class="ti" style="left:0" width="16" height="16" viewBox="0 0 16 16" fill="#d4af37"><circle cx="8" cy="8" r="1.8"/></svg>
<div class="b" style="left:28px"><span style="letter-spacing:0px;"><i style="letter-spacing:1.156px">4- </i><i style="letter-spacing:-0.339px">RECEITAS </i><i style="letter-spacing:-0.469px">DE </i><i style="letter-spacing:-0.342px">CREDIÁRIO</i></span></div>
<div class="tot" style="letter-spacing:1.184px;right:6.82px">0,00</div></div>
<div class="r" style="top:1002px"><svg class="ti" style="left:0" width="16" height="16" viewBox="0 0 16 16" fill="#d4af37"><circle cx="8" cy="8" r="1.8"/></svg>
<div class="b" style="left:28px"><span style="letter-spacing:0px;"><i style="letter-spacing:0.958px">5- </i><i style="letter-spacing:-0.385px">VALORES </i><i style="letter-spacing:-0.403px">RECUPERADOS</i></span></div>
<div class="tot" style="letter-spacing:1.184px;right:6.82px">0,00</div></div>
<div class="r" style="top:1043px"><svg class="ti" style="left:0" width="16" height="16" viewBox="0 0 16 16" fill="#d4af37"><circle cx="8" cy="8" r="1.8"/></svg>
<div class="b" style="left:28px"><span style="letter-spacing:0px;"><i style="letter-spacing:1.016px">6- </i><i style="letter-spacing:-0.116px">VENDAS </i><i style="letter-spacing:-0.469px">DE </i><i style="letter-spacing:-0.416px">BENS </i><i style="letter-spacing:-0.193px">DO </i><i style="letter-spacing:0.08px">PATRIMÔNIO</i></span></div>
<div class="tot" style="letter-spacing:1.184px;right:6.82px">0,00</div></div>
<div class="r" style="top:1084px"><svg class="ti" style="left:0" width="16" height="16" viewBox="0 0 16 16" fill="#d4af37"><circle cx="8" cy="8" r="1.8"/></svg>
<div class="b" style="left:28px"><span style="letter-spacing:0px;"><i style="letter-spacing:0.677px">7- </i><i style="letter-spacing:-0.227px">JUROS </i><i style="letter-spacing:-0.217px">BANCÁRIOS</i></span></div>
<div class="tot" style="letter-spacing:1.184px;right:6.82px">0,00</div></div>
<div class="r" style="top:1125px"><svg class="ti" style="left:0" width="16" height="16" viewBox="0 0 16 16" fill="#d4af37"><circle cx="8" cy="8" r="1.8"/></svg>
<div class="b" style="left:28px"><span style="letter-spacing:0px;"><i style="letter-spacing:1.016px">8- </i><i style="letter-spacing:-0.345px">DIFERENÇAS </i><i style="letter-spacing:-0.464px">DE </i><i style="letter-spacing:0.166px">CAIXA</i></span></div>
<div class="b" style="left:506.77px;letter-spacing:1.105px;">0,08</div>
<div class="tot" style="letter-spacing:1.105px;right:6.89px">0,08</div></div>
<div class="r" style="top:1166px"><svg class="ti" style="left:0" width="16" height="16" viewBox="0 0 16 16" fill="#d4af37"><circle cx="8" cy="8" r="1.8"/></svg>
<div class="b" style="left:28px"><span style="letter-spacing:0px;"><i style="letter-spacing:1.016px">9- </i><i style="letter-spacing:-0.261px">DEVOLUÇÕES </i><i style="letter-spacing:-0.464px">DE </i><i style="letter-spacing:-0.385px">VALORES </i><i style="letter-spacing:-0.477px">RECEBIDOS</i></span></div>
<div class="tot" style="letter-spacing:1.184px;right:6.82px">0,00</div></div>
<div class="r" style="top:1207px"><svg class="ti" style="left:0" width="16" height="16" viewBox="0 0 16 16" fill="#d4af37"><circle cx="8" cy="8" r="1.8"/></svg>
<div class="b" style="left:28px"><span style="letter-spacing:0px;"><i style="letter-spacing:-0.232px">CRÉDITO </i><i style="letter-spacing:-0.113px">RE-PARCELAMENTO </i><i style="letter-spacing:-0.094px">(PARA </i><i style="letter-spacing:-0.007px">QUITAÇÃO)</i></span></div>
<div class="tot" style="letter-spacing:1.184px;right:6.82px">0,00</div></div>
<div class="r" style="top:1248px"><svg class="ti" style="left:0" width="16" height="16" viewBox="0 0 16 16" fill="#d4af37"><circle cx="8" cy="8" r="1.8"/></svg>
<div class="b" style="left:28px"><span style="letter-spacing:0px;"><i style="letter-spacing:-0.339px">RECEITAS </i><i style="letter-spacing:-0.464px">DE </i><i style="letter-spacing:-0.068px">VENDAS</i></span></div>
<div class="b" style="left:484.32px;letter-spacing:1.023px;">80.626,30</div>
<div class="b" style="left:602.66px;letter-spacing:0.686px;">72.467,35</div>
<div class="b" style="left:712.54px;letter-spacing:0.664px;">1.350,00</div>
<div class="tot" style="letter-spacing:0.808px;right:7.19px">154.443,65</div></div>
<div class="r" style="top:1289px"><svg class="ti" style="left:0" width="16" height="16" viewBox="0 0 16 16" fill="#d4af37"><circle cx="8" cy="8" r="1.8"/></svg>
<div class="b" style="left:28px"><span style="letter-spacing:0px;"><i style="letter-spacing:-0.164px">TRANSFERÊNCIA </i><i style="letter-spacing:-0.167px">ENTRADA</i></span></div>
<div class="tot" style="letter-spacing:1.184px;right:6.82px">0,00</div></div>
<div class="r g" style="top:1330px"><svg class="ti" style="left:8px" width="16" height="16" viewBox="0 0 16 16" fill="#d4af37"><path d="M14 1a1 1 0 0 1 1 1v12a1 1 0 0 1-1 1H2a1 1 0 0 1-1-1V2a1 1 0 0 1 1-1zM2 0a2 2 0 0 0-2 2v12a2 2 0 0 0 2 2h12a2 2 0 0 0 2-2V2a2 2 0 0 0-2-2z"/><path d="M4 8a.5.5 0 0 1 .5-.5h7a.5.5 0 0 1 0 1h-7A.5.5 0 0 1 4 8"/></svg>
<div class="gl" style="left:36px;color:#dc3545"><span style="letter-spacing:-0.311px;">DESPESAS</span></div>
<div class="gm" style="left:480.62px;letter-spacing:1.137px;color:#dc3545;">-90.323,98</div>
<div class="gm" style="left:598.92px;letter-spacing:0.848px;color:#dc3545;">-57.252,88</div>
<div class="tot" style="letter-spacing:0.506px;right:7.49px">-147.576,86</div></div>
<div class="r" style="top:1372px"><svg class="ti" style="left:0" width="16" height="16" viewBox="0 0 16 16" fill="#d4af37"><path d="M14 1a1 1 0 0 1 1 1v12a1 1 0 0 1-1 1H2a1 1 0 0 1-1-1V2a1 1 0 0 1 1-1zM2 0a2 2 0 0 0-2 2v12a2 2 0 0 0 2 2h12a2 2 0 0 0 2-2V2a2 2 0 0 0-2-2z"/><path d="M8 4a.5.5 0 0 1 .5.5v3h3a.5.5 0 0 1 0 1h-3v3a.5.5 0 0 1-1 0v-3h-3a.5.5 0 0 1 0-1h3v-3A.5.5 0 0 1 8 4"/></svg>
<div class="b" style="left:28px"><span style="letter-spacing:0px;"><i style="letter-spacing:-0.141px">1- </i><i style="letter-spacing:-0.42px">DESPESAS </i><i style="letter-spacing:0.182px">ADMINISTRATIVAS</i></span></div>
<div class="b" style="left:481.77px;letter-spacing:0.883px;">-38.931,45</div>
<div class="b" style="left:599.52px;letter-spacing:0.716px;">-13.700,95</div>
<div class="tot" style="letter-spacing:1.231px;right:6.77px">-52.632,40</div></div>
<div class="r" style="top:1413px"><svg class="ti" style="left:0" width="16" height="16" viewBox="0 0 16 16" fill="#d4af37"><path d="M14 1a1 1 0 0 1 1 1v12a1 1 0 0 1-1 1H2a1 1 0 0 1-1-1V2a1 1 0 0 1 1-1zM2 0a2 2 0 0 0-2 2v12a2 2 0 0 0 2 2h12a2 2 0 0 0 2-2V2a2 2 0 0 0-2-2z"/><path d="M8 4a.5.5 0 0 1 .5.5v3h3a.5.5 0 0 1 0 1h-3v3a.5.5 0 0 1-1 0v-3h-3a.5.5 0 0 1 0-1h3v-3A.5.5 0 0 1 8 4"/></svg>
<div class="b" style="left:28px"><span style="letter-spacing:0px;"><i style="letter-spacing:0.927px">2- </i><i style="letter-spacing:-0.42px">DESPESAS </i><i style="letter-spacing:-0.058px">COMERCIAIS</i></span></div>
<div class="b" style="left:485.24px;letter-spacing:1.24px;">-3.900,00</div>
<div class="b" style="left:612.90px;letter-spacing:0.324px;">-827,31</div>
<div class="tot" style="letter-spacing:0.309px;right:7.69px">-4.727,31</div></div>
<div class="r" style="top:1454px"><svg class="ti" style="left:0" width="16" height="16" viewBox="0 0 16 16" fill="#d4af37"><path d="M14 1a1 1 0 0 1 1 1v12a1 1 0 0 1-1 1H2a1 1 0 0 1-1-1V2a1 1 0 0 1 1-1zM2 0a2 2 0 0 0-2 2v12a2 2 0 0 0 2 2h12a2 2 0 0 0 2-2V2a2 2 0 0 0-2-2z"/><path d="M8 4a.5.5 0 0 1 .5.5v3h3a.5.5 0 0 1 0 1h-3v3a.5.5 0 0 1-1 0v-3h-3a.5.5 0 0 1 0-1h3v-3A.5.5 0 0 1 8 4"/></svg>
<div class="b" style="left:28px"><span style="letter-spacing:0px;"><i style="letter-spacing:0.995px">3- </i><i style="letter-spacing:-0.42px">DESPESAS </i><i style="letter-spacing:-0.238px">OPERACIONAIS </i><i style="letter-spacing:0.203px">(CUSTOS)</i></span></div>
<div class="b" style="left:483.68px;letter-spacing:0.556px;">-11.562,52</div>
<div class="b" style="left:606.25px;letter-spacing:0.236px;">-2.151,06</div>
<div class="tot" style="letter-spacing:0.338px;right:7.66px">-13.713,58</div></div>
<div class="r" style="top:1495px"><svg class="ti" style="left:0" width="16" height="16" viewBox="0 0 16 16" fill="#d4af37"><path d="M14 1a1 1 0 0 1 1 1v12a1 1 0 0 1-1 1H2a1 1 0 0 1-1-1V2a1 1 0 0 1 1-1zM2 0a2 2 0 0 0-2 2v12a2 2 0 0 0 2 2h12a2 2 0 0 0 2-2V2a2 2 0 0 0-2-2z"/><path d="M8 4a.5.5 0 0 1 .5.5v3h3a.5.5 0 0 1 0 1h-3v3a.5.5 0 0 1-1 0v-3h-3a.5.5 0 0 1 0-1h3v-3A.5.5 0 0 1 8 4"/></svg>
<div class="b" style="left:28px"><span style="letter-spacing:0px;"><i style="letter-spacing:1.156px">4- </i><i style="letter-spacing:-0.42px">DESPESAS </i><i style="letter-spacing:-0.122px">FINANCEIRAS</i></span></div>
<div class="b" style="left:483.49px;letter-spacing:0.5px;">-16.439,21</div>
<div class="b" style="left:599.40px;letter-spacing:0.742px;">-20.415,92</div>
<div class="tot" style="letter-spacing:0.602px;right:7.40px">-36.855,13</div></div>
<div class="r" style="top:1536px"><svg class="ti" style="left:0" width="16" height="16" viewBox="0 0 16 16" fill="#d4af37"><path d="M14 1a1 1 0 0 1 1 1v12a1 1 0 0 1-1 1H2a1 1 0 0 1-1-1V2a1 1 0 0 1 1-1zM2 0a2 2 0 0 0-2 2v12a2 2 0 0 0 2 2h12a2 2 0 0 0 2-2V2a2 2 0 0 0-2-2z"/><path d="M8 4a.5.5 0 0 1 .5.5v3h3a.5.5 0 0 1 0 1h-3v3a.5.5 0 0 1-1 0v-3h-3a.5.5 0 0 1 0-1h3v-3A.5.5 0 0 1 8 4"/></svg>
<div class="b" style="left:28px"><span style="letter-spacing:0px;"><i style="letter-spacing:0.958px">5- </i><i style="letter-spacing:0.132px">INVESTIMENTOS </i><i style="letter-spacing:-0.068px">INTERNOS</i></span></div>
<div class="b" style="left:597.23px;letter-spacing:1.225px;">-20.000,00</div>
<div class="tot" style="letter-spacing:1.225px;right:6.78px">-20.000,00</div></div>
</div>
<div class="cut"></div>
</body></html>
